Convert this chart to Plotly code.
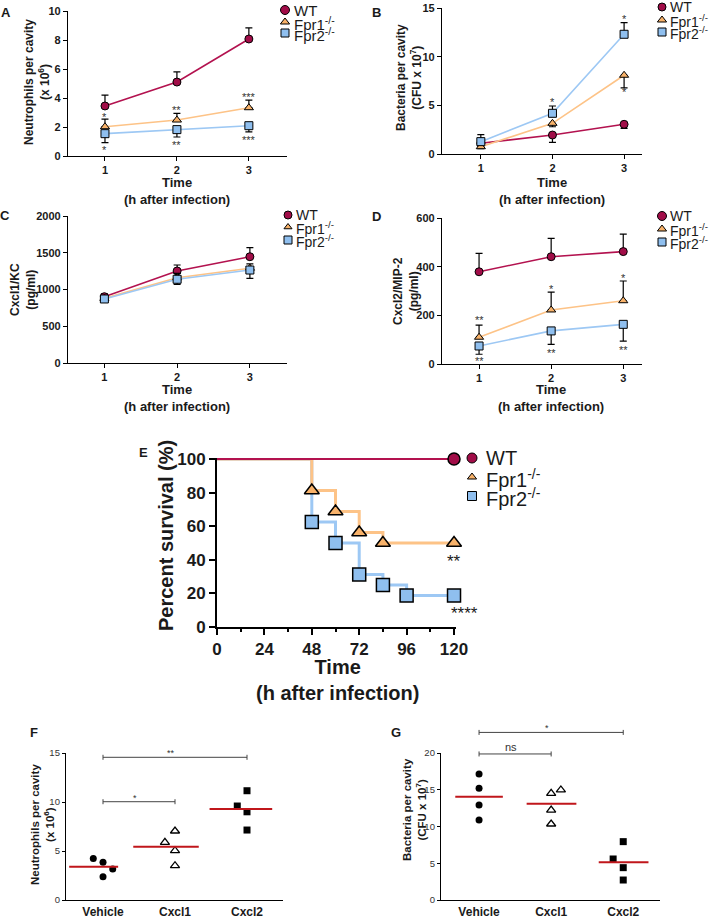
import plotly.graph_objects as go

W, H = 709, 917
FONT = "Liberation Sans, Arial, Helvetica, sans-serif"

# ---------------- data ----------------
time_points = [1, 2, 3]
legend_names = ["WT", "Fpr1<sup>-/-</sup>", "Fpr2<sup>-/-</sup>"]

# A: neutrophils per cavity (x 10^6)
a_wt = [3.45, 5.10, 8.07]
a_wt_err = [0.75, 0.70, 0.76]
a_fpr1 = [2.02, 2.48, 3.33]
a_fpr1_err = [0.53, 0.46, 0.53]
a_fpr2 = [1.54, 1.82, 2.09]
a_fpr2_err = [0.62, 0.51, 0.43]
a_sig_fpr1 = ["*", "**", "***"]
a_sig_fpr1_y = [2.83, 3.30, 4.20]
a_sig_fpr2 = ["*", "**", "***"]
a_sig_fpr2_y = [0.55, 0.90, 1.24]

# B: bacteria per cavity (CFU x 10^7)
b_wt = [1.10, 1.95, 3.05]
b_wt_err = [0.15, 0.75, 0.41]
b_fpr1 = [0.75, 3.15, 8.09]
b_fpr1_err = [0.20, 0.35, 1.29]
b_fpr2 = [1.27, 4.18, 12.30]
b_fpr2_err = [0.73, 0.75, 1.20]
b_sig = ["*", "*", "*"]
b_sig_x = [2, 3, 3]
b_sig_y = [5.55, 14.08, 6.58]

# C: Cxcl1/KC (pg/ml)
c_wt = [902, 1252, 1446]
c_wt_err = [40, 81, 123]
c_fpr1 = [880, 1160, 1290]
c_fpr1_err = [30, 60, 60]
c_fpr2 = [871, 1139, 1265]
c_fpr2_err = [30, 69, 113]

# D: Cxcl2/MIP-2 (pg/ml)
d_wt = [379, 441, 462]
d_wt_err = [76, 75, 72]
d_fpr1 = [110, 222, 260]
d_fpr1_err = [50, 73, 81]
d_fpr2 = [74, 136, 163]
d_fpr2_err = [34, 55, 69]
d_sig_fpr1 = ["**", "*", "*"]
d_sig_fpr1_y = [189, 316, 362]
d_sig_fpr2 = ["**", "**", "**"]
d_sig_fpr2_y = [20, 53, 66]

# E: survival
e_wt_t = [0, 120]
e_wt_s = [100, 100]
e_fpr1_t = [0, 48, 60, 72, 84, 120]
e_fpr1_s = [100, 81.25, 68.75, 56.25, 50, 50]
e_fpr2_t = [0, 48, 60, 72, 84, 96, 120]
e_fpr2_s = [100, 62.5, 50, 31.25, 25, 18.75, 18.75]
e_ticks = [0, 24, 48, 72, 96, 120]
e_sig = ["**", "****"]
e_sig_x = [120, 125.5]
e_sig_y = [41, 10]

# F / G: treatments
treatments = ["Vehicle", "Cxcl1", "Cxcl2"]
f_vehicle = [4.24, 3.85, 3.16, 2.38]
f_cxcl1 = [5.88, 7.04, 5.03, 3.50]
f_cxcl2 = [9.59, 11.15, 9.00, 7.14]
f_mean = [3.40, 5.44, 9.29]
f_brackets = [(0, 1, 10.03, "*"), (0, 2, 14.56, "**")]
g_vehicle = [17.14, 15.19, 12.93, 10.88]
g_cxcl1 = [14.51, 14.97, 12.24, 10.34]
g_cxcl2 = [7.94, 5.58, 4.40, 2.72]
g_mean = [14.05, 13.10, 5.12]
g_brackets = [(0, 1, 19.87, "ns"), (0, 2, 22.8, "*")]

# ---------------- styles ----------------
STY = {
    "WT": dict(symbol="circle", fill="#A10D48", line="#B3124F"),
    "Fpr1": dict(symbol="triangle-up", fill="#F8B26A", line="#FDC387"),
    "Fpr2": dict(symbol="square", fill="#8FBFEF", line="#9DC8F4"),
}
KEYS = ["WT", "Fpr1", "Fpr2"]

fig = go.Figure()
layout = dict(
    width=W, height=H, margin=dict(l=0, r=0, t=0, b=0, autoexpand=False),
    paper_bgcolor="white", plot_bgcolor="rgba(0,0,0,0)",
    showlegend=False, font=dict(family=FONT, color="#1a1a1a"),
)
annotations = []
shapes = []
PANEL = {}


def ids(n):
    s = "" if n == 1 else str(n)
    return "x" + s, "y" + s


def dom(px):
    x0, x1, y0, y1 = px
    return [x0 / W, x1 / W], [1 - y1 / H, 1 - y0 / H]


def to_px(n, x, y):
    (x0, x1, y0, y1), xr, yr = PANEL[n]
    return (x0 + (x - xr[0]) / (xr[1] - xr[0]) * (x1 - x0),
            y1 - (y - yr[0]) / (yr[1] - yr[0]) * (y1 - y0))


def set_axes(n, px, xr, yr, xextra, yextra):
    PANEL[n] = (px, xr, yr)
    xd, yd = dom(px)
    xa, ya = ids(n)
    base = dict(showgrid=False, zeroline=False, showline=True, linecolor="black",
                tickcolor="black", fixedrange=True, automargin=False)
    xa_d = dict(base, domain=xd, range=xr, anchor=ya)
    xa_d.update(xextra)
    ya_d = dict(base, domain=yd, range=yr, anchor=xa)
    ya_d.update(yextra)
    layout["xaxis" + xa[1:]] = xa_d
    layout["yaxis" + ya[1:]] = ya_d


def ann_px(x, y, text, size, bold=False, angle=0, xanchor="center", yanchor="middle",
           yshift=0, color="#1a1a1a"):
    annotations.append(dict(
        x=x, y=y, xref="x8", yref="y8", text=text, showarrow=False,
        textangle=angle, xanchor=xanchor, yanchor=yanchor, yshift=yshift,
        font=dict(size=size, family=FONT, color=color, weight="bold" if bold else "normal"),
    ))


# ---------------- panels A-D ----------------
tick_ad = dict(size=11, family=FONT, color="#1a1a1a", weight="bold")
ad_panels = [
    dict(n=1, px=(68, 287, 11, 156), xr=[0.486, 3.53], yr=[0, 10], dtick=2,
         series=[(a_wt, a_wt_err, True), (a_fpr1, a_fpr1_err, True), (a_fpr2, a_fpr2_err, False)],
         stars=list(zip(time_points, a_sig_fpr1_y, a_sig_fpr1)) + list(zip(time_points, a_sig_fpr2_y, a_sig_fpr2))),
    dict(n=2, px=(442, 642, 8, 154), xr=[0.458, 3.25], yr=[0, 15], dtick=5,
         series=[(b_wt, b_wt_err, False), (b_fpr1, b_fpr1_err, False), (b_fpr2, b_fpr2_err, True)],
         stars=list(zip(b_sig_x, b_sig_y, b_sig))),
    dict(n=3, px=(68, 287, 216, 363), xr=[0.5, 3.51], yr=[0, 2000], dtick=500,
         series=[(c_wt, c_wt_err, True), (c_fpr1, c_fpr1_err, True), (c_fpr2, c_fpr2_err, False)],
         stars=[]),
    dict(n=4, px=(442, 642, 218, 364), xr=[0.486, 3.26], yr=[0, 600], dtick=200,
         series=[(d_wt, d_wt_err, True), (d_fpr1, d_fpr1_err, True), (d_fpr2, d_fpr2_err, False)],
         stars=list(zip(time_points, d_sig_fpr1_y, d_sig_fpr1)) + list(zip(time_points, d_sig_fpr2_y, d_sig_fpr2))),
]

for p in ad_panels:
    n = p["n"]
    set_axes(n, p["px"], p["xr"], p["yr"],
             dict(tickvals=time_points, ticks="outside", ticklen=4, tickwidth=1.3, linewidth=1.3,
                  tickfont=tick_ad),
             dict(dtick=p["dtick"], tick0=0, ticks="outside", ticklen=4, tickwidth=1.3, linewidth=1.3,
                  tickfont=tick_ad))
    xa, ya = ids(n)
    for (vals, err, up), key in zip(p["series"], KEYS):
        st = STY[key]
        zeros = [0] * len(err)
        fig.add_trace(go.Scatter(
            x=time_points, y=vals, xaxis=xa, yaxis=ya, mode="lines+markers",
            line=dict(color=st["line"], width=1.6),
            marker=dict(symbol=st["symbol"], size=8, color=st["fill"], line=dict(color="black", width=1)),
            error_y=dict(type="data", symmetric=False, array=err if up else zeros,
                         arrayminus=zeros if up else err, color="black", thickness=1.2, width=3.5),
            cliponaxis=False, hoverinfo="skip"))
    for x, y, t in p["stars"]:
        px_, py_ = to_px(n, x, y)
        ann_px(px_, py_, t, 11, yshift=-2, color="#333333")

# ---------------- panel E ----------------
set_axes(5, (217, 456, 458, 627), [0, 121], [0, 100.6],
         dict(tickvals=e_ticks, ticks="outside", ticklen=6, tickwidth=2, linewidth=2,
              tickfont=dict(size=17, family=FONT, color="#1a1a1a", weight="bold"),
              minor=dict(dtick=12, tick0=0, ticks="outside", ticklen=3, tickwidth=1.5, tickcolor="black")),
         dict(dtick=20, tick0=0, ticks="outside", ticklen=6, tickwidth=2, linewidth=2,
              tickfont=dict(size=17, family=FONT, color="#1a1a1a", weight="bold")))
e_series = [(e_fpr2_t, e_fpr2_s, "Fpr2", 3), (e_fpr1_t, e_fpr1_s, "Fpr1", 3), (e_wt_t, e_wt_s, "WT", 2)]
for t, s, key, lw in e_series:
    fig.add_trace(go.Scatter(x=t, y=s, xaxis="x5", yaxis="y5", mode="lines", line_shape="hv",
                             line=dict(color=STY[key]["line"], width=lw), cliponaxis=False, hoverinfo="skip"))
e_msize = {"WT": 12, "Fpr1": 13, "Fpr2": 13}
for t, s, key, lw in e_series:
    st = STY[key]
    fig.add_trace(go.Scatter(x=t[1:], y=s[1:], xaxis="x5", yaxis="y5", mode="markers",
                             marker=dict(symbol=st["symbol"], size=e_msize[key], color=st["fill"],
                                         line=dict(color="black", width=1.5)),
                             cliponaxis=False, hoverinfo="skip"))
for x, y, t in zip(e_sig_x, e_sig_y, e_sig):
    px_, py_ = to_px(5, x, y)
    ann_px(px_, py_, t, 17, yshift=-3)

# ---------------- panels F, G ----------------
f_offsets = [[-0.135, 0, 0.135, 0], [-0.14, 0, 0, 0], [-0.135, 0, 0, 0]]
g_offsets = [[0, 0, 0, 0], [0, 0.135, 0, 0], [0, -0.14, 0, 0]]
f_mean_span = [(-0.47, 0.21), (-0.58, 0.33), (-0.52, 0.35)]
g_mean_span = [(-0.33, 0.33), (-0.34, 0.35), (-0.34, 0.35)]
dot_style = [
    dict(symbol="circle", size=7, color="black", line=dict(color="black", width=0)),
    dict(symbol="triangle-up-open", size=8, color="black", line=dict(color="black", width=1.3)),
    dict(symbol="square", size=7, color="black", line=dict(color="black", width=0)),
]

fg_panels = [
    dict(n=6, px=(66, 283, 753, 900), xr=[-0.514, 2.5], yr=[0, 15],
         groups=[f_vehicle, f_cxcl1, f_cxcl2], offs=f_offsets, mean=f_mean, span=f_mean_span,
         brackets=f_brackets),
    dict(n=7, px=(441, 660, 753, 900), xr=[-0.528, 2.51], yr=[0, 20],
         groups=[g_vehicle, g_cxcl1, g_cxcl2], offs=g_offsets, mean=g_mean, span=g_mean_span,
         brackets=g_brackets),
]
for p in fg_panels:
    n = p["n"]
    xa, ya = ids(n)
    set_axes(n, p["px"], p["xr"], p["yr"],
             dict(tickvals=list(range(len(treatments))), ticktext=treatments, ticks="", linewidth=1.3,
                  tickfont=dict(size=12, family=FONT, color="#1a1a1a", weight="bold")),
             dict(dtick=5, tick0=0, ticks="outside", ticklen=3, tickwidth=1.2, linewidth=1.3,
                  tickfont=dict(size=9.5, family=FONT, color="#333333")))
    for i, (vals, offs) in enumerate(zip(p["groups"], p["offs"])):
        fig.add_trace(go.Scatter(x=[i + o for o in offs], y=vals, xaxis=xa, yaxis=ya, mode="markers",
                                 marker=dot_style[i], cliponaxis=False, hoverinfo="skip"))
    mx, my = [], []
    for i, (m, (lo, hi)) in enumerate(zip(p["mean"], p["span"])):
        mx += [i + lo, i + hi, None]
        my += [m, m, None]
    fig.add_trace(go.Scatter(x=mx, y=my, xaxis=xa, yaxis=ya, mode="lines",
                             line=dict(color="#C0161B", width=2), cliponaxis=False, hoverinfo="skip"))
    for c0, c1, yv, lab in p["brackets"]:
        bx0, by = to_px(n, c0, yv)
        bx1, _ = to_px(n, c1, yv)
        for (ax0, ay0, ax1, ay1) in [(bx0, by, bx1, by), (bx0, by - 2.5, bx0, by + 2.5),
                                      (bx1, by - 2.5, bx1, by + 2.5)]:
            shapes.append(dict(type="line", xref="paper", yref="paper",
                               x0=ax0 / W, y0=1 - ay0 / H, x1=ax1 / W, y1=1 - ay1 / H,
                               line=dict(color="#444444", width=1)))
        is_ns = lab == "ns"
        ann_px((bx0 + bx1) / 2 - 4, by, lab, 11 if is_ns else 9,
               yshift=7 if is_ns else 4, color="#333333")

# ---------------- overlay pixel axis for legends / labels ----------------
layout["xaxis8"] = dict(domain=[0, 1], range=[0, W], visible=False, fixedrange=True, anchor="y8",
                        automargin=False)
layout["yaxis8"] = dict(domain=[0, 1], range=[H, 0], visible=False, fixedrange=True, anchor="x8",
                        automargin=False)

legends = [
    dict(mx=285, tx=292, ys=[10, 22, 33], fs=15, ms=[9, 8, 8]),
    dict(mx=662, tx=668, ys=[7, 20, 32], fs=14, ms=[8, 8, 8]),
    dict(mx=288, tx=294, ys=[215, 227, 240], fs=14, ms=[8, 7, 8]),
    dict(mx=662, tx=668, ys=[216, 229, 242], fs=14, ms=[9, 8, 8]),
    dict(mx=472, tx=484, ys=[458, 477, 496], fs=20, ms=[10, 8, 9]),
]
for lg in legends:
    for key, name, y, ms in zip(KEYS, legend_names, lg["ys"], lg["ms"]):
        st = STY[key]
        fig.add_trace(go.Scatter(x=[lg["mx"]], y=[y], xaxis="x8", yaxis="y8", mode="markers",
                                 marker=dict(symbol=st["symbol"], size=ms, color=st["fill"],
                                             line=dict(color="black", width=1)),
                                 cliponaxis=False, hoverinfo="skip"))
        ann_px(lg["tx"], y, name, lg["fs"], xanchor="left", yshift=(-1 if key != "WT" else 0))

# panel letters
for letter, x, y in [("A", 6, 12), ("B", 376, 12), ("C", 5, 215), ("D", 376, 216),
                     ("E", 143, 452), ("F", 34, 732), ("G", 396, 732)]:
    ann_px(x, y, letter, 13, bold=True)

# axis titles
ann_px(37, 82, "Neutrophils per cavity<br>(x 10<sup>6</sup>)", 12, bold=True, angle=-90)
ann_px(177, 191, "Time<br>(h after infection)", 13, bold=True)
ann_px(409, 78, "Bacteria per cavity<br>(CFU x 10<sup>7</sup>)", 12, bold=True, angle=-90)
ann_px(552, 191, "Time<br>(h after infection)", 13, bold=True)
ann_px(23, 290, "Cxcl1/KC<br>(pg/ml)", 12, bold=True, angle=-90)
ann_px(177, 398, "Time<br>(h after infection)", 13, bold=True)
ann_px(406, 291, "Cxcl2/MIP-2<br>(pg/ml)", 12, bold=True, angle=-90)
ann_px(551, 398, "Time<br>(h after infection)", 13, bold=True)
ann_px(166, 536, "Percent survival (%)", 20, bold=True, angle=-90)
ann_px(337, 680, "Time<br>(h after infection)", 20, bold=True)
ann_px(42, 825, "Neutrophils per cavity<br>(x 10<sup>6</sup>)", 11.5, bold=True, angle=-90)
ann_px(414, 810, "Bacteria per cavity<br>(CFU x 10<sup>7</sup>)", 11.5, bold=True, angle=-90)

layout["annotations"] = annotations
layout["shapes"] = shapes
fig.update_layout(**layout)
fig.write_html("out.html", config={"displayModeBar": False},
               post_script="document.body.style.margin='0';document.body.style.overflow='hidden';")
